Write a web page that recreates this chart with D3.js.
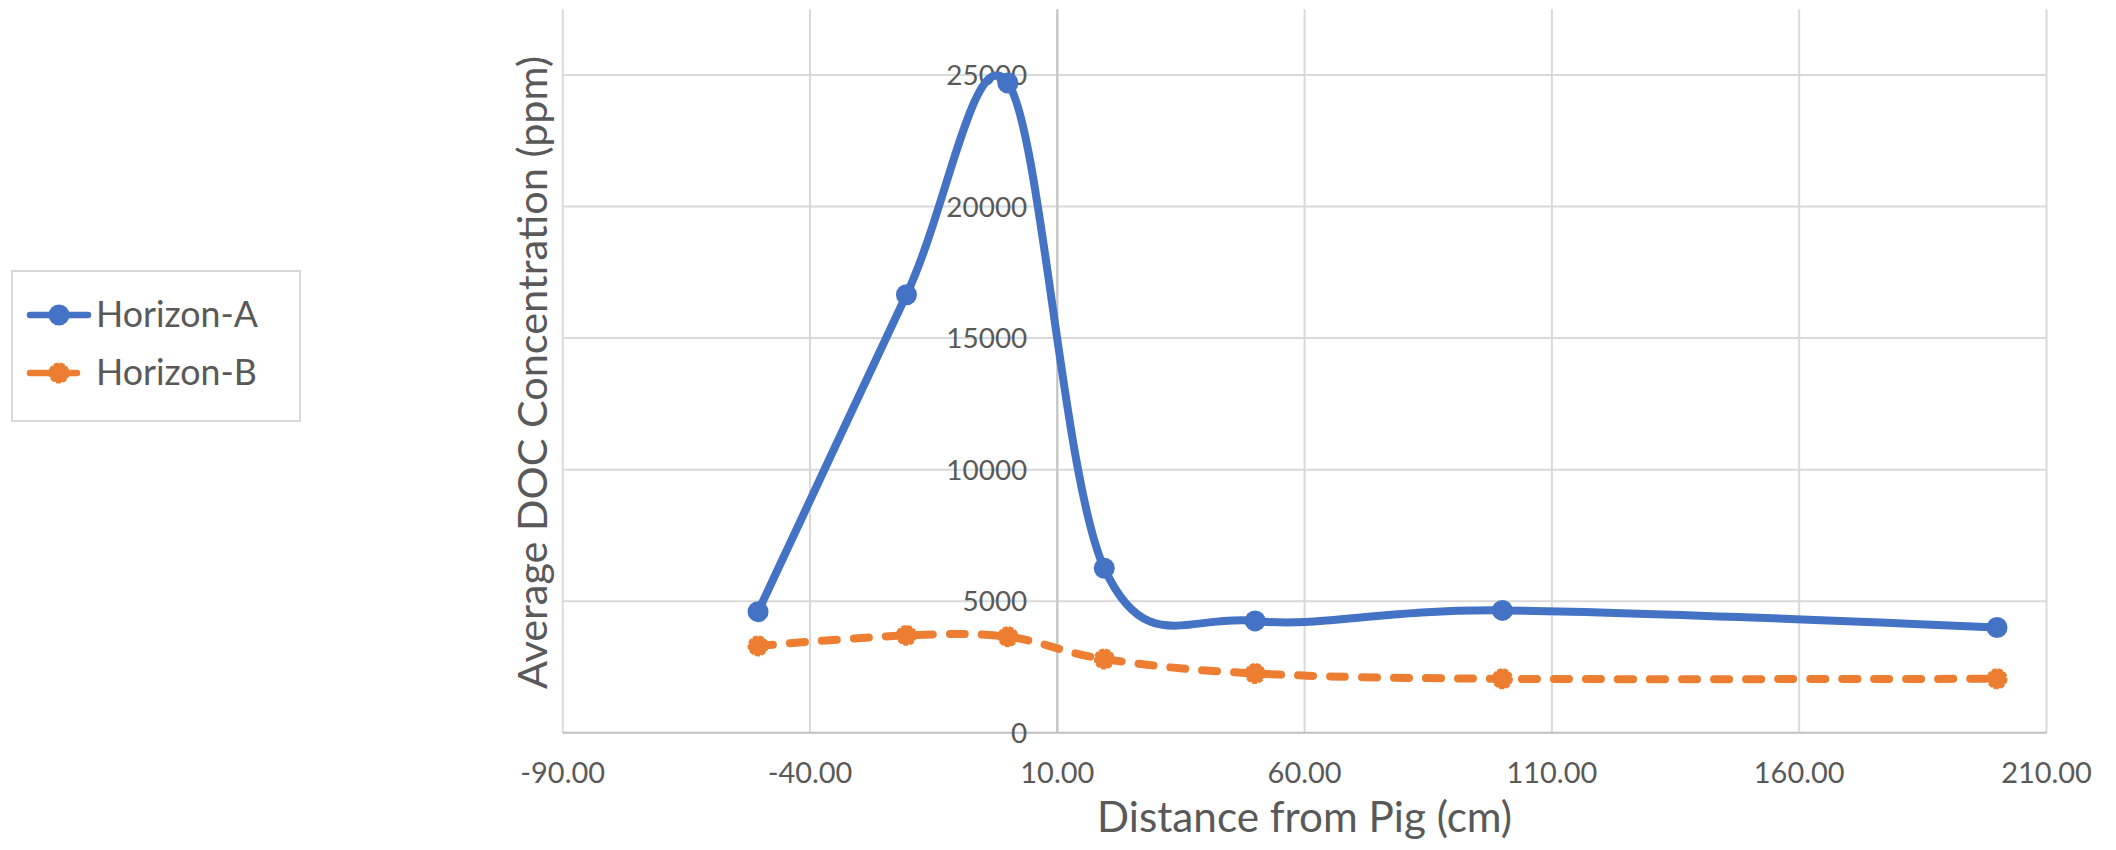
<!DOCTYPE html>
<html>
<head>
<meta charset="utf-8">
<script src="https://cdn.jsdelivr.net/npm/d3@7"></script>
<style>
  html, body { margin: 0; padding: 0; background: #ffffff; }
  svg { display: block; }
  text { font-family: "Lato", "Open Sans", sans-serif; fill: #595959; }
</style>
</head>
<body>
<svg id="chart" width="2116" height="850"></svg>
<script>
// Sampling distances (cm) and average DOC concentrations (ppm)
const distances = [-50.5, -20.5, 0, 19.5, 50, 100, 200];
const horizonA = [4600, 16650, 24700, 6250, 4250, 4650, 4000];
const horizonB = [3300, 3700, 3650, 2800, 2250, 2050, 2050];

const seriesNames = ["Horizon-A", "Horizon-B"];
const seriesColors = ["#4472C4", "#ED7D31"];

const xTicks = [-90, -40, 10, 60, 110, 160, 210];
const yTicks = [0, 5000, 10000, 15000, 20000, 25000];
const xDomain = [-90, 210];
const yDomain = [0, 27500];
const yAxisCross = 10;

const xTitle = "Distance from Pig (cm)";
const yTitle = "Average DOC Concentration (ppm)";

const svg = d3.select("#chart");

const plot = { left: 562.7, right: 2046.5, top: 9.3, bottom: 732.7 };
const x = d3.scaleLinear().domain(xDomain).range([plot.left, plot.right]);
const y = d3.scaleLinear().domain(yDomain).range([plot.bottom, plot.top]);

// scale a text's font size so its rendered width hits a target
function fitWidth(node, target) {
  const fs = parseFloat(node.getAttribute("font-size"));
  const len = node.getComputedTextLength();
  const size = fs * target / len;
  node.setAttribute("font-size", size);
  return size;
}

// gridlines
const grid = svg.append("g");
grid.selectAll("line.vx").data(xTicks).join("line")
  .attr("x1", d => x(d)).attr("x2", d => x(d))
  .attr("y1", plot.top).attr("y2", plot.bottom)
  .attr("stroke", "#d9d9d9").attr("stroke-width", 2);
grid.selectAll("line.hy").data(yTicks.filter(d => d > 0)).join("line")
  .attr("x1", plot.left).attr("x2", plot.right)
  .attr("y1", d => y(d)).attr("y2", d => y(d))
  .attr("stroke", "#d9d9d9").attr("stroke-width", 2);

// axis lines: horizontal at 0, vertical crossing at x = 10
svg.append("line")
  .attr("x1", plot.left).attr("x2", plot.right)
  .attr("y1", y(0)).attr("y2", y(0))
  .attr("stroke", "#bfbfbf").attr("stroke-width", 2);
svg.append("line")
  .attr("x1", x(yAxisCross)).attr("x2", x(yAxisCross))
  .attr("y1", plot.top).attr("y2", plot.bottom)
  .attr("stroke", "#c4c4c4").attr("stroke-width", 2);

// x tick labels (plain hyphen for negatives)
const fmtX = d => d3.format(".2f")(d).replace("\u2212", "-");
const xLabels = svg.append("g").selectAll("text").data(xTicks).join("text")
  .attr("x", d => x(d)).attr("y", 783)
  .attr("text-anchor", "middle")
  .attr("font-size", 28)
  .text(d => fmtX(d));
const xRef = xLabels.filter(d => d === 60).node();
const xSize = fitWidth(xRef, 74);
xLabels.attr("font-size", xSize);

// y tick labels, right-aligned beside the vertical axis
const yLabels = svg.append("g").selectAll("text").data(yTicks).join("text")
  .attr("x", x(yAxisCross) - 30).attr("y", d => y(d))
  .attr("dy", "0.36em")
  .attr("text-anchor", "end")
  .attr("font-size", 28)
  .text(d => d3.format("d")(d));
const yRef = yLabels.filter(d => d === 25000).node();
const ySize = fitWidth(yRef, 81);
yLabels.attr("font-size", ySize);

// axis titles
const xt = svg.append("text")
  .attr("x", (plot.left + plot.right) / 2).attr("y", 832)
  .attr("text-anchor", "middle").attr("font-size", 36)
  .text(xTitle);
fitWidth(xt.node(), 415);

const yt = svg.append("text")
  .attr("transform", `translate(547,${(plot.top + plot.bottom) / 2 + 1.5}) rotate(-90)`)
  .attr("text-anchor", "middle").attr("font-size", 42)
  .text(yTitle);
fitWidth(yt.node(), 633);

// smoothed series lines
const line = d3.line()
  .x((d, i) => x(distances[i]))
  .y(d => y(d))
  .curve(d3.curveCardinal.tension(0));

svg.append("path").datum(horizonB)
  .attr("d", line)
  .attr("fill", "none")
  .attr("stroke", seriesColors[1]).attr("stroke-width", 8)
  .attr("stroke-linecap", "round")
  .attr("stroke-dasharray", "15,17");

svg.append("path").datum(horizonA)
  .attr("d", line)
  .attr("fill", "none")
  .attr("stroke", seriesColors[0]).attr("stroke-width", 8)
  .attr("stroke-linejoin", "round");

// markers
svg.append("g").selectAll("circle").data(horizonB).join("circle")
  .attr("cx", (d, i) => x(distances[i])).attr("cy", d => y(d))
  .attr("r", 9.5)
  .attr("fill", seriesColors[1])
  .attr("stroke", seriesColors[1]).attr("stroke-width", 2)
  .attr("stroke-dasharray", "5,1.5");

svg.append("g").selectAll("circle").data(horizonA).join("circle")
  .attr("cx", (d, i) => x(distances[i])).attr("cy", d => y(d))
  .attr("r", 10.5)
  .attr("fill", seriesColors[0]);

// legend
const legend = svg.append("g");
legend.append("rect")
  .attr("x", 12).attr("y", 271).attr("width", 288).attr("height", 150)
  .attr("fill", "#ffffff").attr("stroke", "#d9d9d9").attr("stroke-width", 2);

const rowY = [315, 373];
// Horizon-A key
legend.append("line")
  .attr("x1", 30).attr("x2", 88).attr("y1", rowY[0]).attr("y2", rowY[0])
  .attr("stroke", seriesColors[0]).attr("stroke-width", 6.5)
  .attr("stroke-linecap", "round");
legend.append("circle")
  .attr("cx", 59).attr("cy", rowY[0]).attr("r", 10.5)
  .attr("fill", seriesColors[0]);
// Horizon-B key
legend.append("line")
  .attr("x1", 30).attr("x2", 77).attr("y1", rowY[1]).attr("y2", rowY[1])
  .attr("stroke", seriesColors[1]).attr("stroke-width", 6.5)
  .attr("stroke-linecap", "round")
  .attr("stroke-dasharray", "20,13");
legend.append("circle")
  .attr("cx", 59).attr("cy", rowY[1]).attr("r", 9.5)
  .attr("fill", seriesColors[1])
  .attr("stroke", seriesColors[1]).attr("stroke-width", 2)
  .attr("stroke-dasharray", "5,1.5");

const legTexts = legend.selectAll("text.lg").data(seriesNames).join("text")
  .attr("x", 96).attr("y", (d, i) => rowY[i] + 11.5)
  .attr("font-size", 32)
  .text(d => d);
const legSize = fitWidth(legTexts.nodes()[0], 162);
legTexts.attr("font-size", legSize);
</script>
</body>
</html>
